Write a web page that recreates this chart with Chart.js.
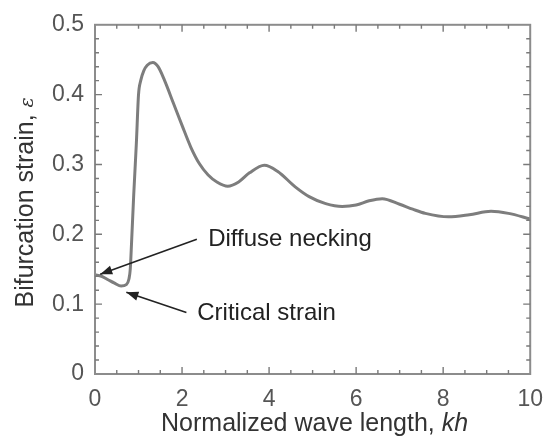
<!DOCTYPE html>
<html>
<head>
<meta charset="utf-8">
<script src="https://cdn.jsdelivr.net/npm/chart.js@4.4.1/dist/chart.umd.min.js"></script>
<style>
  html, body { margin: 0; padding: 0; background: #fff; }
  #wrap { width: 555px; height: 446px; position: relative; }
</style>
</head>
<body>
<div id="wrap"><canvas id="c" width="555" height="446"></canvas></div>
<script>
// ---- data ----
const kh = [0, 0.15, 0.3, 0.45, 0.6, 0.72, 0.78, 0.81, 0.84, 0.89, 0.95, 1.0, 1.05, 1.12, 1.2, 1.33, 1.45, 1.6, 1.8, 2.0, 2.2, 2.4, 2.6, 2.8, 3.05, 3.3, 3.55, 3.89, 4.2, 4.6, 4.92, 5.3, 5.68, 6.0, 6.3, 6.6, 7.0, 7.3, 7.59, 8.12, 8.6, 9.1, 9.5, 10];
const strain = [0.142, 0.140, 0.135, 0.130, 0.126, 0.128, 0.136, 0.150, 0.188, 0.257, 0.330, 0.400, 0.420, 0.434, 0.442, 0.446, 0.440, 0.420, 0.388, 0.356, 0.325, 0.301, 0.285, 0.275, 0.269, 0.275, 0.288, 0.299, 0.290, 0.268, 0.254, 0.244, 0.240, 0.242, 0.248, 0.251, 0.243, 0.236, 0.230, 0.225, 0.228, 0.233, 0.230, 0.222];
const xTickLabels = [0, 2, 4, 6, 8, 10];
const yTickLabels = [0, 0.1, 0.2, 0.3, 0.4, 0.5];
const xMinorTicks = [0.5,1,1.5,2,2.5,3,3.5,4,4.5,5,5.5,6,6.5,7,7.5,8,8.5,9,9.5];
const yMinorTicks = [0.02,0.04,0.06,0.08,0.1,0.12,0.14,0.16,0.18,0.2,0.22,0.24,0.26,0.28,0.3,0.32,0.34,0.36,0.38,0.4,0.42,0.44,0.46,0.48];
const xTitle = ["Normalized wave length, ", "kh"];
const yTitle = ["Bifurcation strain, ", "ε"];
const annotations = [
  { text: "Diffuse necking", textX: 2.6, textY: 0.193, fromX: 2.34, fromY: 0.193, toX: 0.12, toY: 0.143 },
  { text: "Critical strain", textX: 2.35, textY: 0.087, fromX: 2.1, fromY: 0.088, toX: 0.72, toY: 0.117 }
];

const FONT = '"Liberation Sans", Arial, Helvetica, sans-serif';

const decor = {
  id: 'decor',
  afterDraw(chart) {
    const ctx = chart.ctx;
    const xs = chart.scales.x, ys = chart.scales.y;
    const a = chart.chartArea;
    ctx.save();
    // frame
    ctx.strokeStyle = '#8c8c8c';
    ctx.lineWidth = 2;
    ctx.strokeRect(a.left, a.top, a.right - a.left, a.bottom - a.top);
    // ticks (inward, all four sides)
    ctx.lineWidth = 1.4;
    ctx.strokeStyle = '#7a7a7a';
    ctx.beginPath();
    xMinorTicks.forEach(v => {
      const p = xs.getPixelForValue(v);
      const L = (Math.abs(v % 2) < 1e-9) ? 7 : 4;
      ctx.moveTo(p, a.bottom); ctx.lineTo(p, a.bottom - L);
      ctx.moveTo(p, a.top); ctx.lineTo(p, a.top + L);
    });
    yMinorTicks.forEach(v => {
      const p = ys.getPixelForValue(v);
      const major = Math.abs(Math.round(v * 10) - v * 10) < 1e-9;
      const L = major ? 7 : 4;
      ctx.moveTo(a.left, p); ctx.lineTo(a.left + L, p);
      ctx.moveTo(a.right, p); ctx.lineTo(a.right - L, p);
    });
    ctx.stroke();

    // annotations
    annotations.forEach(an => {
      const fx = xs.getPixelForValue(an.fromX), fy = ys.getPixelForValue(an.fromY);
      const tx = xs.getPixelForValue(an.toX), ty = ys.getPixelForValue(an.toY);
      ctx.strokeStyle = '#222';
      ctx.fillStyle = '#222';
      ctx.lineWidth = 1.6;
      ctx.beginPath(); ctx.moveTo(fx, fy); ctx.lineTo(tx, ty); ctx.stroke();
      const ang = Math.atan2(ty - fy, tx - fx);
      const hl = 12, hw = 4.5;
      ctx.beginPath();
      ctx.moveTo(tx, ty);
      ctx.lineTo(tx - hl * Math.cos(ang) + hw * Math.sin(ang), ty - hl * Math.sin(ang) - hw * Math.cos(ang));
      ctx.lineTo(tx - hl * Math.cos(ang) - hw * Math.sin(ang), ty - hl * Math.sin(ang) + hw * Math.cos(ang));
      ctx.closePath(); ctx.fill();
      ctx.font = '24px ' + FONT;
      ctx.textAlign = 'left';
      ctx.textBaseline = 'middle';
      ctx.fillText(an.text, xs.getPixelForValue(an.textX), ys.getPixelForValue(an.textY));
    });

    // x title
    ctx.fillStyle = '#333';
    ctx.textBaseline = 'alphabetic';
    ctx.font = '25px ' + FONT;
    const w1 = ctx.measureText(xTitle[0]).width;
    ctx.font = 'italic 25px ' + FONT;
    const w2 = ctx.measureText(xTitle[1]).width;
    const cx = (a.left + a.right) / 2 + 2;
    let sx = cx - (w1 + w2) / 2;
    ctx.font = '25px ' + FONT;
    ctx.textAlign = 'left';
    ctx.fillText(xTitle[0], sx, 431);
    ctx.font = 'italic 25px ' + FONT;
    ctx.fillText(xTitle[1], sx + w1, 431);

    // y title
    ctx.save();
    ctx.translate(33, (a.top + a.bottom) / 2 + 3);
    ctx.rotate(-Math.PI / 2);
    ctx.font = '25px ' + FONT;
    const v1 = ctx.measureText(yTitle[0]).width;
    ctx.font = 'italic 19px "DejaVu Serif", serif';
    const v2 = ctx.measureText(yTitle[1]).width;
    const s0 = -(v1 + v2) / 2;
    ctx.font = '25px ' + FONT;
    ctx.fillText(yTitle[0], s0, 0);
    ctx.font = 'italic 19px "DejaVu Serif", serif';
    ctx.fillText(yTitle[1], s0 + v1, 0);
    ctx.restore();

    ctx.restore();
  }
};

new Chart(document.getElementById('c'), {
  type: 'scatter',
  data: {
    datasets: [{
      data: kh.map((x, i) => ({ x: x, y: strain[i] })),
      showLine: true,
      borderColor: '#7d7d7d',
      borderWidth: 3,
      pointRadius: 0,
      cubicInterpolationMode: 'monotone',
      fill: false
    }]
  },
  options: {
    responsive: false,
    animation: false,
    layout: { padding: { left: 0, right: 23, top: 16, bottom: 0 } },
    plugins: { legend: { display: false }, tooltip: { enabled: false } },
    scales: {
      x: {
        type: 'linear', min: 0, max: 10,
        afterFit: s => { s.height = 72; },
        afterBuildTicks: s => { s.ticks = xTickLabels.map(v => ({ value: v })); },
        grid: { display: false, drawTicks: false },
        border: { display: false },
        ticks: { color: '#555', font: { family: FONT, size: 23 }, padding: 12, maxRotation: 0 }
      },
      y: {
        type: 'linear', min: 0, max: 0.5,
        afterFit: s => { s.width = 95; },
        afterBuildTicks: s => { s.ticks = yTickLabels.map(v => ({ value: v })); },
        grid: { display: false, drawTicks: false },
        border: { display: false },
        ticks: { color: '#555', font: { family: FONT, size: 23 }, padding: 11 }
      }
    }
  },
  plugins: [decor]
});
</script>
</body>
</html>
